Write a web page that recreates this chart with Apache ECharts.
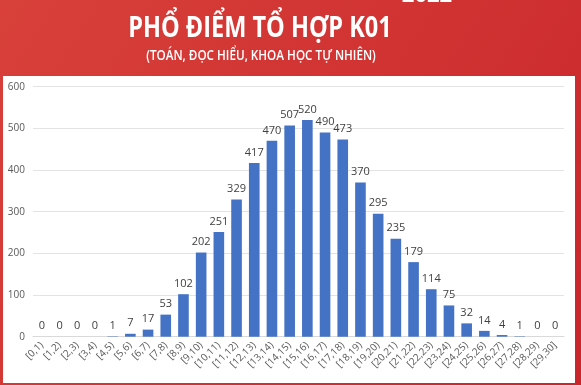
<!DOCTYPE html>
<html><head><meta charset="utf-8">
<script src="https://cdn.jsdelivr.net/npm/echarts@6/dist/echarts.min.js"></script>
<style>html,body{margin:0;padding:0;}#c{width:581px;height:385px;}</style>
</head><body><div id="c"></div>
<script>
const categories = ["[0,1)","[1,2)","[2,3)","[3,4)","[4,5)","[5,6)","[6,7)","[7,8)","[8,9)","[9,10)","[10,11)","[11,12)","[12,13)","[13,14)","[14,15)","[15,16)","[16,17)","[17,18)","[18,19)","[19,20)","[20,21)","[21,22)","[22,23)","[23,24)","[24,25)","[25,26)","[26,27)","[27,28)","[28,29)","[29,30]"];
const counts = [0,0,0,0,1,7,17,53,102,202,251,329,417,470,507,520,490,473,370,295,235,179,114,75,32,14,4,1,0,0];
const yTicks = [0,100,200,300,400,500,600];
const titleText = "PHỔ ĐIỂM TỔ HỢP K01";
const subtitleText = "(TOÁN, ĐỌC HIỂU, KHOA HỌC TỰ NHIÊN)";

const chart = echarts.init(document.getElementById('c'));
chart.setOption({
  backgroundColor: new echarts.graphic.LinearGradient(0,0,1,1,[{offset:0,color:'#d8403a'},{offset:1,color:'#c9262b'}]),
  animation:false,
  graphic:[
    {type:'rect', z:-1, shape:{x:3,y:76,width:572,height:307}, style:{fill:'#ffffff'}},
    {type:'text', x:260, y:29, scaleX:0.84, style:{text:titleText, x:0, y:0, textAlign:'center', textVerticalAlign:'middle', fill:'#ffffff', font:'bold 28px "Open Sans"'}},
    {type:'text', x:261, y:56, scaleX:0.78, style:{text:subtitleText, x:0, y:0, textAlign:'center', textVerticalAlign:'middle', fill:'#ffffff', font:'600 15px "Open Sans"'}},
    {type:'text', x:427, y:-4, style:{text:'2022', x:0, y:0, textAlign:'center', textVerticalAlign:'middle', fill:'#ffffff', font:'bold 22px "Open Sans"'}}
  ],
  grid:{left:33,right:17,top:86.7,bottom:48.3},
  xAxis:{type:'category',data:categories,
    axisLine:{show:true,lineStyle:{color:'#d9d9d9'}},axisTick:{show:false},
    axisLabel:{interval:0,rotate:45,color:'#595959',fontSize:10,fontFamily:'Open Sans',margin:7}},
  yAxis:{type:'value',min:0,max:600,interval:100,
    axisLine:{show:false},axisTick:{show:false},
    splitLine:{lineStyle:{color:'#e3e3e3'}},
    axisLabel:{color:'#595959',fontSize:10,fontFamily:'Open Sans',margin:8,
      formatter:v=>yTicks.includes(v)?String(v):''}},
  series:[{type:'bar',data:counts,barCategoryGap:'40%',
    itemStyle:{color:'#4472c4'},
    label:{show:true,position:'top',distance:5,color:'#404040',fontSize:11,fontFamily:'Open Sans'}}]
});
</script></body></html>
